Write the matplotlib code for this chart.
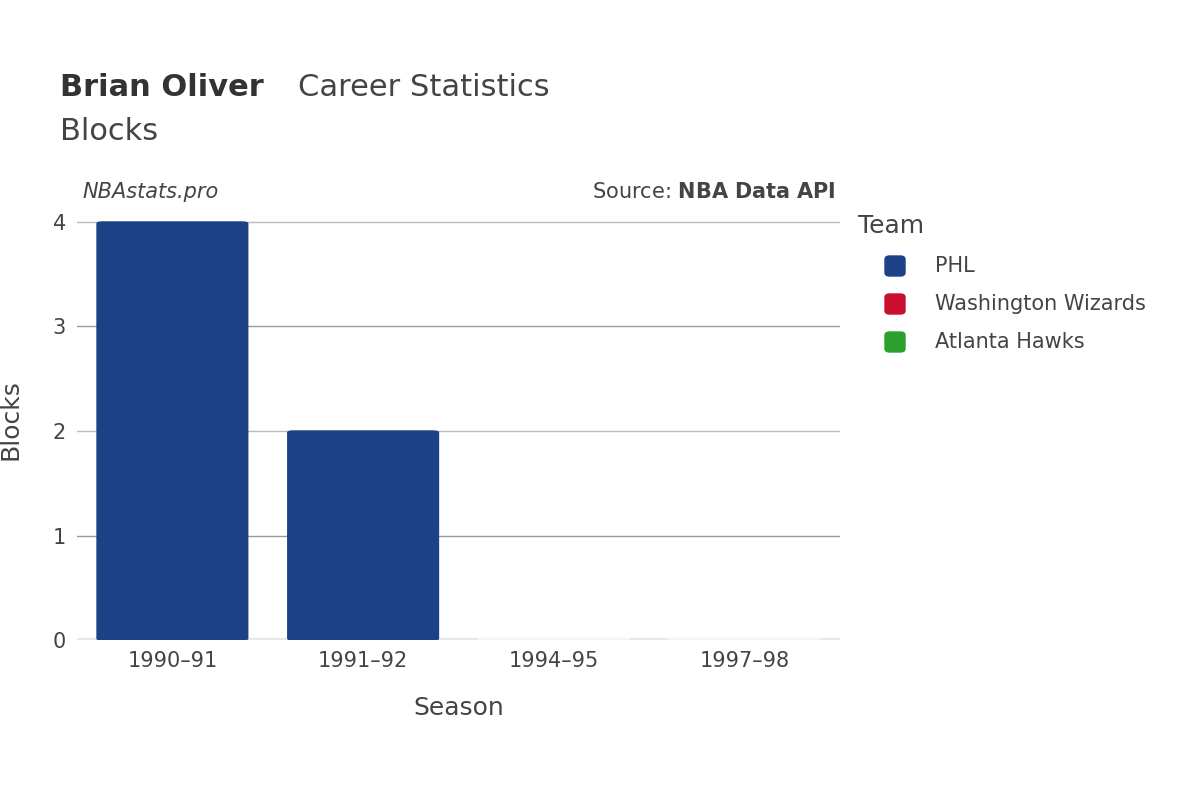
import matplotlib
matplotlib.use("Agg")
import matplotlib.pyplot as plt
from matplotlib.patches import FancyBboxPatch
from matplotlib.lines import Line2D

seasons = ["1990–91", "1991–92", "1994–95", "1997–98"]
phl = [4, 2, 0, 0]
teams = ["PHL", "Washington Wizards", "Atlanta Hawks"]
colors = ["#1c4187", "#c8102e", "#2ca02c"]

fig = plt.figure(figsize=(12, 8), dpi=100)
W, H = 1200, 800
ax = fig.add_axes([77/W, 1-640/H, (840-77)/W, (640-200)/H])
ax.set_xlim(-0.5, 3.5)
ax.set_ylim(0, 440/104.5)
for y in [1, 2, 3, 4]:
    ax.axhline(y, color="#999999" if y % 2 else "#bbbbbb", lw=1, zorder=0)
ax.axhline(0, color="#e8e8e8", lw=3, zorder=0)
bw = 0.79
for i, v in enumerate(phl):
    if v > 0:
        p = FancyBboxPatch((i - bw/2, 0), bw, v, boxstyle="round,pad=0,rounding_size=0.03",
                           mutation_aspect=1/1.9, fc=colors[0], ec=colors[0], zorder=2)
        ax.add_patch(p)
    else:
        ax.plot([i - bw/2, i + bw/2], [0.005, 0.005], color="#f4f4f4", lw=1.5, zorder=2)
for s in ax.spines.values():
    s.set_visible(False)
ax.set_xticks(range(4))
ax.set_xticklabels(seasons)
ax.set_yticks([0, 1, 2, 3, 4])
ax.tick_params(length=0, labelsize=15, labelcolor="#444444", pad=8)
ax.set_xlabel("Season", fontsize=18, color="#444444", labelpad=18)
ax.set_ylabel("Blocks", fontsize=18, color="#444444", labelpad=22)

fig.text(60/W, 1-88/H, "Brian Oliver", fontsize=22, fontweight="bold", color="#333333", va="center")
fig.text(298/W, 1-88/H, "Career Statistics", fontsize=22, color="#444444", va="center")
fig.text(60/W, 1-132/H, "Blocks", fontsize=22, color="#444444", va="center")
fig.text(82/W, 1-192/H, "NBAstats.pro", fontsize=15, style="italic", color="#444444", va="center")
fig.text(836/W, 1-192/H, "Source: $\\bf{NBA\\ Data\\ API}$", fontsize=15, color="#444444", va="center", ha="right")

fig.text(858/W, 1-226/H, "Team", fontsize=18, color="#444444", va="center")
for k, (t, c) in enumerate(zip(teams, colors)):
    y = 1 - (266 + 38*k)/H
    fig.add_artist(FancyBboxPatch((885/W, y - 10/H), 20/W, 20/H,
                   boxstyle="round,pad=0,rounding_size=0.004", fc=c, ec=c, transform=fig.transFigure))
    fig.text(935/W, y, t, fontsize=15, color="#444444", va="center")

fig.savefig("out.png", dpi=100)
